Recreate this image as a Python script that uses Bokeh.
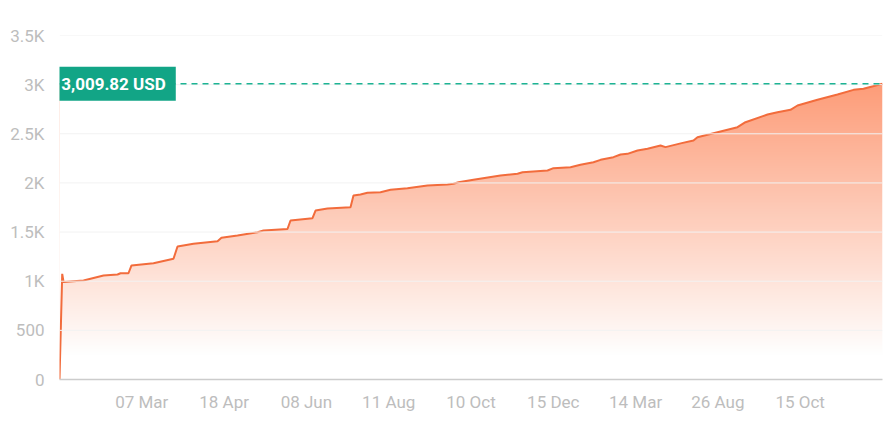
import numpy as np
from bokeh.plotting import figure
from bokeh.models import Range1d, FixedTicker, Span, Label
from bokeh.embed import file_html
from bokeh.resources import INLINE

# --- data ---
pos = [0, 0.33, 0.49, 2.92, 5.35, 7.05, 7.41, 8.38, 8.75, 11.42,
       13.85, 14.34, 16.28, 19.2, 19.68, 21.63, 24.06, 24.79, 27.7, 28.07,
       30.74, 31.11, 32.56, 35.36, 35.72, 36.57, 37.42, 39.0, 40.22, 42.28,
       44.71, 47.14, 47.87, 48.48, 50.3, 53.58, 55.65, 56.26, 59.3, 60.02,
       62.09, 63.3, 64.88, 65.74, 67.31, 68.17, 69.01, 70.23, 71.45, 73.03,
       73.63, 75.6, 77.03, 77.52, 79.95, 82.38, 83.35, 86.03, 87.24, 88.82,
       89.67, 92.1, 94.53, 96.48, 97.69, 100]
values = [0, 1075, 992, 1007, 1058, 1068, 1081, 1081, 1160, 1183,
          1228, 1353, 1381, 1407, 1442, 1465, 1499, 1516, 1531, 1618,
          1641, 1719, 1740, 1753, 1872, 1882, 1900, 1906, 1930, 1946,
          1974, 1984, 1991, 2007, 2032, 2076, 2093, 2109, 2126, 2150,
          2160, 2184, 2211, 2235, 2262, 2289, 2296, 2330, 2347, 2381,
          2364, 2405, 2432, 2465, 2516, 2567, 2618, 2696, 2720, 2744,
          2788, 2846, 2900, 2947, 2958, 3009.82]
last_value = 3009.82
last_label = "3,009.82 USD"

x_tick_pos = [10, 20, 30, 40, 50, 60, 70, 80, 90]
x_tick_labels = ["07 Mar", "18 Apr", "08 Jun", "11 Aug", "10 Oct",
                 "15 Dec", "14 Mar", "26 Aug", "15 Oct"]
y_ticks = [0, 500, 1000, 1500, 2000, 2500, 3000, 3500]
y_tick_labels = ["0", "500", "1K", "1.5K", "2K", "2.5K", "3K", "3.5K"]

FONT = "Roboto"

p = figure(width=889, height=420, output_backend="svg", toolbar_location=None,
           x_range=Range1d(0, 100), y_range=Range1d(0, 3500),
           min_border_left=59, min_border_right=7, min_border_top=35,
           min_border_bottom=41)
p.outline_line_color = None
p.background_fill_color = "white"
p.border_fill_color = "white"

# gradient fill image (vertical), then white mask above the curve
N = 300
ys = np.linspace(0, last_value, N)
alpha = np.clip((ys - 250) / (last_value - 250), 0, 1)
top = np.array([253, 156, 120], dtype=float)
rgb = 255 - alpha[:, None] * (255 - top[None, :])
img = np.empty((N, 1), dtype=np.uint32)
view = img.view(dtype=np.uint8).reshape((N, 1, 4))
view[:, 0, 0] = rgb[:, 0].astype(np.uint8)
view[:, 0, 1] = rgb[:, 1].astype(np.uint8)
view[:, 0, 2] = rgb[:, 2].astype(np.uint8)
view[:, 0, 3] = 255
p.image_rgba(image=[img], x=0, y=0, dw=100, dh=last_value)
p.varea(x=pos, y1=values, y2=3500, fill_color="white")

p.line(pos, values, line_color="#f26c3c", line_width=2)

# horizontal grid lines drawn above the fill
p.xgrid.grid_line_color = None
p.ygrid.grid_line_color = None
for t in y_ticks[1:]:
    p.add_layout(Span(location=t, dimension="width", line_color="#f2f2f2",
                      line_width=1))

span = Span(location=last_value, dimension="width", line_color="#1db394",
            line_dash="6 5", line_width=1.5)
p.add_layout(span)

lab = Label(x=6.56, y=last_value, text=last_label, text_color="white",
            text_font=FONT, text_font_style="bold", text_font_size="17px",
            text_align="center", text_baseline="middle",
            background_fill_color="#12a586",
            padding=dict(left=10, right=10, top=7, bottom=7))
p.add_layout(lab)

# axes
p.xaxis.ticker = FixedTicker(ticks=x_tick_pos)
p.xaxis.major_label_overrides = dict(zip(x_tick_pos, x_tick_labels))
p.xaxis.axis_line_color = "#cccccc"
p.xaxis.axis_line_width = 1.5
p.xaxis.major_tick_line_color = None
p.xaxis.minor_tick_line_color = None
p.xaxis.major_label_text_color = "#bdbdbd"
p.xaxis.major_label_text_font = FONT
p.xaxis.major_label_text_font_size = "17px"
p.xaxis.major_label_standoff = 6

p.yaxis.ticker = FixedTicker(ticks=y_ticks)
p.yaxis.major_label_overrides = dict(zip(y_ticks, y_tick_labels))
p.yaxis.axis_line_color = None
p.yaxis.major_tick_line_color = None
p.yaxis.minor_tick_line_color = None
p.yaxis.major_label_text_color = "#bdbdbd"
p.yaxis.major_label_text_font = FONT
p.yaxis.major_label_text_font_size = "17px"
p.yaxis.major_label_standoff = 9

open("out.html", "w").write(file_html(p, INLINE))
